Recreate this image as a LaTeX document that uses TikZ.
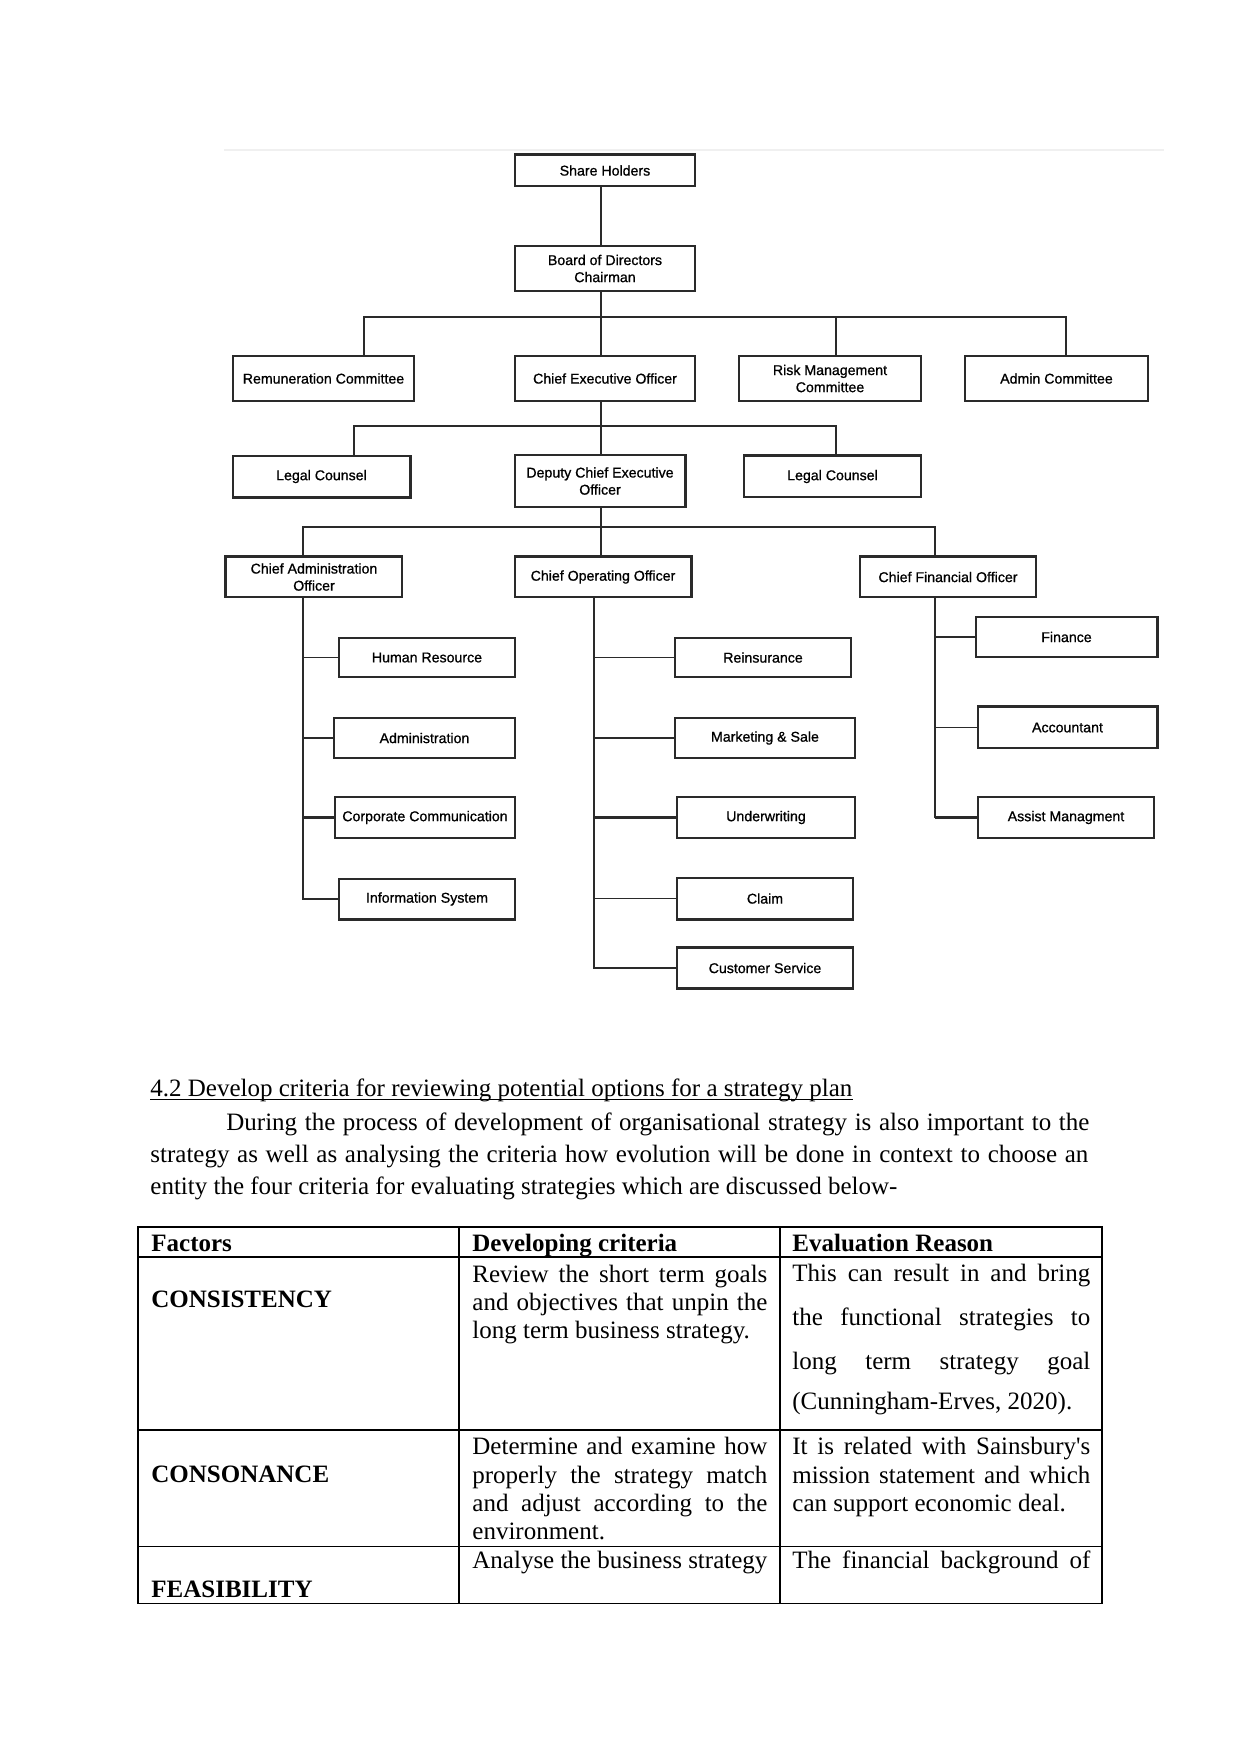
\documentclass[tikz,border=0pt]{standalone}
\usepackage{fontspec}
\setmainfont{Liberation Serif}[Ligatures=TeXOff]
\newfontfamily\chartfont[FakeBold=0.9]{Liberation Sans}
\definecolor{chartline}{HTML}{2A2A2A}
\newcommand\orgbox[6]{\node[box, minimum width={(#4-#2)*0.48pt}, minimum height={(#5-#3)*0.48pt}] (#1) at ({(#2+#4)/2},{(#3+#5)/2}) {#6};}
\begin{document}
\begin{tikzpicture}[x=0.48pt,y=-0.48pt,
  box/.style={draw=chartline, line width=0.7pt, inner sep=0pt, align=center, font=\chartfont\fontsize{6.8}{8.2}\selectfont, text=black},
  conn/.style={draw=chartline, line width=0.6pt},
  thickconn/.style={draw=chartline, line width=1.3pt},
  heavyside/.style={draw=chartline, line width=1.4pt},
  cell/.style={anchor=base west, inner sep=0pt, font=\fontsize{12}{14}\selectfont},
  rule/.style={draw=black, line width=0.5pt}]
\useasboundingbox[fill=white] (0,0) rectangle (1241,1754);
% faint top rule
\draw[draw=gray!12, line width=1pt] (224,150) -- (1164,150);
% ---- boxes ----
\orgbox{sh}{515}{155}{695}{186}{Share Holders}
\orgbox{bod}{515}{246}{695}{291}{Board of Directors\\Chairman}
\orgbox{rem}{233}{356}{414}{401}{Remuneration Committee}
\orgbox{ceo}{515}{356}{695}{401}{Chief Executive Officer}
\orgbox{risk}{739}{356}{921}{401}{Risk Management\\Committee}
\orgbox{adm}{965}{356}{1148}{401}{Admin Committee}
\orgbox{lcl}{233}{456}{410}{497}{Legal Counsel}
\orgbox{dep}{515}{455}{685}{507}{Deputy Chief Executive\\Officer}
\orgbox{lcr}{744}{456}{921}{497}{Legal Counsel}
\orgbox{cao}{226}{557}{402}{597}{Chief Administration\\Officer}
\orgbox{coo}{515}{557}{691}{597}{Chief Operating Officer}
\orgbox{cfo}{860}{557}{1036}{597}{Chief Financial Officer}
\orgbox{hr}{339}{638}{515}{677}{Human Resource}
\orgbox{admn}{334}{718}{515}{758}{Administration}
\orgbox{corp}{335}{797}{515}{838}{Corporate Communication}
\orgbox{info}{339}{879}{515}{919}{Information System}
\orgbox{rein}{675}{638}{851}{677}{Reinsurance}
\orgbox{mkt}{675}{718}{855}{758}{Marketing \& Sale}
\orgbox{und}{677}{797}{855}{838}{Underwriting}
\orgbox{claim}{677}{878}{853}{919}{Claim}
\orgbox{cs}{677}{948}{853}{988}{Customer Service}
\orgbox{fin}{976}{617}{1157}{657}{Finance}
\orgbox{acc}{978}{707}{1157}{748}{Accountant}
\orgbox{asst}{978}{797}{1154}{838}{Assist Managment}
% heavier box sides
\draw[heavyside] (sh.north west) -- (sh.north east);
\draw[heavyside] (lcl.north east) -- (lcl.south east) -- (lcl.south west);
\draw[heavyside] (dep.north east) -- (dep.south east);
\draw[heavyside] (cao.south west) -- (cao.north west) -- (cao.north east);
\draw[heavyside] (coo.north west) -- (coo.north east) -- (coo.south east);
\draw[heavyside] (cfo.north west) -- (cfo.north east);
\draw[heavyside] (fin.north east) -- (fin.south east);
\draw[heavyside] (acc.north west) -- (acc.north east) -- (acc.south east);
\draw[heavyside] (info.south west) -- (info.south east);
\draw[heavyside] (claim.south west) -- (claim.south east);
\draw[heavyside] (cs.north west) -- (cs.north east);
\draw[heavyside] (cs.south west) -- (cs.south east);
\draw[heavyside] (lcr.north west) -- (lcr.north east);
% ---- connector coordinates ----
\coordinate (xa) at (601,0);
\coordinate (b1l) at (364,317);
\coordinate (b1r) at (1066,317);
\coordinate (b1m) at (836,317);
\coordinate (b2l) at (354,426);
\coordinate (b2r) at (836,426);
\coordinate (b3l) at (303,527);
\coordinate (b3r) at (935,527);
\coordinate (vc) at (594,0);
% ---- connectors ----
\draw[conn] (sh.south -| xa) -- (bod.north -| xa);
\draw[conn] (bod.south -| xa) -- (ceo.north -| xa);
\draw[conn] (rem.north -| b1l) -- (b1l) -- (b1r) -- (adm.north -| b1r);
\draw[conn] (risk.north -| b1m) -- (b1m);
\draw[conn] (ceo.south -| xa) -- (dep.north -| xa);
\draw[conn] (lcl.north -| b2l) -- (b2l) -- (b2r) -- (lcr.north -| b2r);
\draw[conn] (dep.south -| xa) -- (coo.north -| xa);
\draw[conn] (cao.north -| b3l) -- (b3l) -- (b3r) -- (cfo.north -| b3r);
% administration branch
\draw[conn] (cao.south -| b3l) |- (info.west);
\draw[conn] (hr.west) -- (hr.west -| b3l);
\draw[conn] (admn.west) -- (admn.west -| b3l);
\draw[thickconn] (corp.west) -- (corp.west -| b3l);
% operating branch
\draw[conn] (coo.south -| vc) |- (cs.west);
\draw[conn] (rein.west) -- (rein.west -| vc);
\draw[conn] (mkt.west) -- (mkt.west -| vc);
\draw[thickconn] (und.west) -- (und.west -| vc);
\draw[conn] (claim.west) -- (claim.west -| vc);
% financial branch
\draw[conn] (cfo.south -| b3r) -- (asst.west -| b3r);
\draw[conn] (fin.west) -- (fin.west -| b3r);
\draw[conn] (acc.west) -- (acc.west -| b3r);
\draw[thickconn] (asst.west) -- (asst.west -| b3r);
% ---- text section ----
\node[cell] (h) at (150,1096) {4.2 Develop criteria for reviewing potential options for a strategy plan};
\draw[line width=0.5pt] ([yshift=-1.6pt]h.base west) -- ([yshift=-1.6pt]h.base east);
\node[cell] (p1) at (226,1130) {\makebox[414.2pt][s]{During the process of development of organisational strategy is also important to the}};
\node[cell] (p2) at (150,1162) {\makebox[450.2pt][s]{strategy as well as analysing the criteria how evolution will be done in context to choose an}};
\node[cell] (p3) at (150,1194) {entity the four criteria for evaluating strategies which are discussed below-};
% ---- table ----
\draw[rule] (138,1227) rectangle (1102,1603);
\draw[rule] (138,1257) -- (1102,1257);
\draw[rule] (138,1430) -- (1102,1430);
\draw[rule] (138,1546) -- (1102,1546);
\draw[rule] (459,1227) -- (459,1603);
\draw[rule] (780,1227) -- (780,1603);
\node[cell] at (151,1251) {\textbf{Factors}};
\node[cell] at (472,1251) {\textbf{Developing criteria}};
\node[cell] at (792,1251) {\textbf{Evaluation Reason}};
% row 1
\node[cell] at (151,1307) {\textbf{CONSISTENCY}};
\node[cell] at (472,1282) {\makebox[141.6pt][s]{Review the short term goals}};
\node[cell] at (472,1310) {\makebox[141.6pt][s]{and objectives that unpin the}};
\node[cell] at (472,1338) {long term business strategy.};
\node[cell] at (792,1281) {\makebox[143pt][s]{This can result in and bring}};
\node[cell] at (792,1325) {\makebox[143pt][s]{the functional strategies to}};
\node[cell] at (792,1369) {\makebox[143pt][s]{long term strategy goal}};
\node[cell] at (792,1409) {(Cunningham-Erves, 2020).};
% row 2
\node[cell] at (151,1482) {\textbf{CONSONANCE}};
\node[cell] at (472,1454) {\makebox[141.6pt][s]{Determine and examine how}};
\node[cell] at (472,1483) {\makebox[141.6pt][s]{properly the strategy match}};
\node[cell] at (472,1511) {\makebox[141.6pt][s]{and adjust according to the}};
\node[cell] at (472,1539) {environment.};
\node[cell] at (792,1454) {\makebox[143pt][s]{It is related with Sainsbury's}};
\node[cell] at (792,1483) {\makebox[143pt][s]{mission statement and which}};
\node[cell] at (792,1511) {can support economic deal.};
% row 3
\node[cell] at (151,1597) {\textbf{FEASIBILITY}};
\node[cell] at (472,1568) {\makebox[141.6pt][s]{Analyse the business strategy}};
\node[cell] at (792,1568) {\makebox[143pt][s]{The financial background of}};
\end{tikzpicture}
\end{document}
